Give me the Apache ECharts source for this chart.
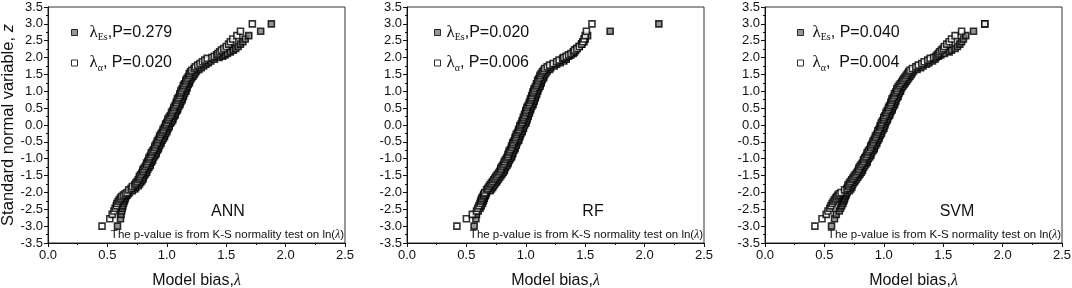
<!DOCTYPE html>
<html>
<head>
<meta charset="utf-8">
<script src="https://cdn.jsdelivr.net/npm/echarts@6/dist/echarts.min.js"></script>
<style>
  html, body { margin: 0; padding: 0; background: #fff; }
  #chart { width: 1072px; height: 288px; }
</style>
</head>
<body>
<div id="chart"></div>
<script>
// standard normal variable z for the lambda_Es points
const zsEs = [-3.00, -2.78, -2.65, -2.55, -2.47, -2.40, -2.33, -2.27, -2.22, -2.17, -2.12, -2.08, -2.04, -2.00,
  -1.95, -1.90, -1.85, -1.80, -1.75, -1.70, -1.65, -1.60, -1.55, -1.50, -1.45, -1.40, -1.35, -1.30, -1.25, -1.20,
  -1.15, -1.10, -1.05, -1.00, -0.95, -0.90, -0.85, -0.80, -0.75, -0.70, -0.65, -0.60, -0.55, -0.50, -0.45, -0.40,
  -0.35, -0.30, -0.25, -0.20, -0.15, -0.10, -0.05, 0.00, 0.05, 0.10, 0.15, 0.20, 0.25, 0.30, 0.35, 0.40, 0.45,
  0.50, 0.55, 0.60, 0.65, 0.70, 0.75, 0.80, 0.85, 0.90, 0.95, 1.00, 1.05, 1.10, 1.15, 1.20, 1.25, 1.30, 1.35,
  1.40, 1.45, 1.50, 1.55, 1.60, 1.65, 1.70, 1.75, 1.80, 1.85, 1.90, 1.95,
  2.00, 2.04, 2.08, 2.12, 2.17, 2.22, 2.27, 2.33, 2.40, 2.47, 2.55, 2.65, 2.78, 3.00];
// standard normal variable z for the lambda_alpha points
const zsAlpha = [-3.00, -2.78, -2.65, -2.55, -2.47, -2.40, -2.33, -2.27, -2.22, -2.17, -2.12, -2.08, -2.04, -2.00,
  -1.925, -1.875, -1.825, -1.775, -1.725, -1.675, -1.625, -1.575, -1.525, -1.475, -1.425, -1.375, -1.325, -1.275,
  -1.225, -1.175, -1.125, -1.075, -1.025, -0.975, -0.925, -0.875, -0.825, -0.775, -0.725, -0.675, -0.625, -0.575,
  -0.525, -0.475, -0.425, -0.375, -0.325, -0.275, -0.225, -0.175, -0.125, -0.075, -0.025, 0.025, 0.075, 0.125,
  0.175, 0.225, 0.275, 0.325, 0.375, 0.425, 0.475, 0.525, 0.575, 0.625, 0.675, 0.725, 0.775, 0.825, 0.875, 0.925,
  0.975, 1.025, 1.075, 1.125, 1.175, 1.225, 1.275, 1.325, 1.375, 1.425, 1.475, 1.525, 1.575, 1.625, 1.675, 1.725,
  1.775, 1.825, 1.875, 1.925, 1.975,
  2.00, 2.04, 2.08, 2.12, 2.17, 2.22, 2.27, 2.33, 2.40, 2.47, 2.55, 2.65, 2.78, 3.00];

// ANN model bias
const annEs = [0.585, 0.61, 0.615, 0.62, 0.625, 0.63, 0.635, 0.64, 0.645, 0.65, 0.655, 0.665, 0.675, 0.685,
  0.71, 0.73, 0.74, 0.76, 0.77, 0.78, 0.79, 0.80, 0.80, 0.81, 0.82, 0.83, 0.83, 0.84, 0.85, 0.86, 0.86, 0.87, 0.88, 0.88,
  0.89, 0.90, 0.91, 0.91, 0.92, 0.93, 0.93, 0.94, 0.95, 0.95, 0.96, 0.97, 0.98, 0.98, 0.99, 1.00, 1.00, 1.01, 1.02, 1.02,
  1.03, 1.04, 1.05, 1.05, 1.06, 1.07, 1.07, 1.08, 1.09, 1.09, 1.10, 1.11, 1.11, 1.12, 1.13, 1.13, 1.14, 1.14, 1.15, 1.16,
  1.16, 1.17, 1.17, 1.18, 1.19, 1.19, 1.20, 1.21, 1.22, 1.23, 1.24, 1.25, 1.27, 1.29, 1.31, 1.33, 1.35, 1.37, 1.40,
  1.44, 1.47, 1.49, 1.51, 1.535, 1.56, 1.58, 1.60, 1.62, 1.64, 1.66, 1.69, 1.79, 1.88];
const annAlpha = [0.455, 0.52, 0.54, 0.555, 0.565, 0.575, 0.58, 0.59, 0.60, 0.61, 0.62, 0.635, 0.65, 0.665,
  0.68, 0.70, 0.71, 0.73, 0.74, 0.75, 0.76, 0.77, 0.77, 0.78, 0.79, 0.80, 0.80, 0.81, 0.82, 0.83, 0.83, 0.84, 0.85, 0.85,
  0.86, 0.87, 0.87, 0.88, 0.89, 0.90, 0.90, 0.91, 0.92, 0.92, 0.93, 0.94, 0.94, 0.95, 0.96, 0.97, 0.97, 0.98, 0.99, 0.99,
  1.00, 1.01, 1.01, 1.02, 1.03, 1.04, 1.04, 1.05, 1.06, 1.06, 1.07, 1.08, 1.08, 1.09, 1.09, 1.10, 1.11, 1.11, 1.12, 1.12,
  1.13, 1.14, 1.14, 1.15, 1.16, 1.16, 1.17, 1.18, 1.19, 1.19, 1.20, 1.21, 1.23, 1.24, 1.26, 1.28, 1.30, 1.32, 1.34,
  1.38, 1.40, 1.42, 1.43, 1.445, 1.46, 1.48, 1.50, 1.52, 1.535, 1.555, 1.59, 1.62, 1.72];

// RF model bias
const rfEs = [0.565, 0.58, 0.585, 0.60, 0.615, 0.625, 0.635, 0.64, 0.645, 0.65, 0.655, 0.66, 0.665, 0.67,
  0.70, 0.71, 0.72, 0.73, 0.74, 0.75, 0.76, 0.77, 0.78, 0.79, 0.80, 0.81, 0.82, 0.82, 0.83, 0.84, 0.85, 0.85, 0.86, 0.87,
  0.88, 0.88, 0.89, 0.89, 0.90, 0.91, 0.91, 0.92, 0.92, 0.93, 0.94, 0.94, 0.95, 0.95, 0.96, 0.97, 0.97, 0.98, 0.98, 0.99,
  1.00, 1.00, 1.01, 1.01, 1.02, 1.02, 1.03, 1.03, 1.04, 1.04, 1.05, 1.06, 1.06, 1.07, 1.07, 1.08, 1.08, 1.09, 1.09, 1.10,
  1.10, 1.11, 1.12, 1.12, 1.13, 1.13, 1.14, 1.15, 1.15, 1.16, 1.17, 1.18, 1.20, 1.21, 1.24, 1.26, 1.29, 1.32, 1.34,
  1.34, 1.36, 1.38, 1.40, 1.41, 1.42, 1.43, 1.45, 1.47, 1.49, 1.50, 1.52, 1.71, 2.12];
const rfAlpha = [0.42, 0.50, 0.55, 0.585, 0.595, 0.605, 0.615, 0.62, 0.625, 0.63, 0.64, 0.645, 0.65, 0.655,
  0.67, 0.68, 0.69, 0.70, 0.71, 0.72, 0.73, 0.74, 0.75, 0.76, 0.77, 0.78, 0.79, 0.79, 0.80, 0.81, 0.82, 0.82, 0.83, 0.84,
  0.85, 0.85, 0.86, 0.86, 0.87, 0.88, 0.88, 0.89, 0.89, 0.90, 0.91, 0.91, 0.92, 0.92, 0.93, 0.94, 0.94, 0.95, 0.95, 0.96,
  0.97, 0.97, 0.98, 0.98, 0.99, 0.99, 1.00, 1.00, 1.01, 1.01, 1.02, 1.03, 1.03, 1.04, 1.04, 1.05, 1.05, 1.06, 1.06, 1.07,
  1.07, 1.08, 1.09, 1.09, 1.10, 1.10, 1.11, 1.12, 1.12, 1.13, 1.14, 1.15, 1.16, 1.18, 1.20, 1.23, 1.26, 1.28, 1.31,
  1.32, 1.34, 1.36, 1.38, 1.40, 1.41, 1.43, 1.45, 1.47, 1.48, 1.49, 1.50, 1.51, 1.557];

// SVM model bias
const svmEs = [0.56, 0.585, 0.60, 0.625, 0.635, 0.645, 0.655, 0.66, 0.665, 0.67, 0.675, 0.68, 0.685, 0.69,
  0.71, 0.72, 0.73, 0.73, 0.74, 0.75, 0.76, 0.77, 0.78, 0.79, 0.80, 0.81, 0.82, 0.82, 0.83, 0.84, 0.85, 0.86, 0.86, 0.87,
  0.88, 0.89, 0.89, 0.90, 0.91, 0.92, 0.92, 0.93, 0.94, 0.94, 0.95, 0.96, 0.96, 0.97, 0.98, 0.98, 0.99, 1.00, 1.00, 1.01,
  1.01, 1.02, 1.03, 1.03, 1.04, 1.05, 1.05, 1.06, 1.07, 1.07, 1.08, 1.09, 1.09, 1.10, 1.10, 1.11, 1.12, 1.12, 1.13, 1.14,
  1.14, 1.15, 1.16, 1.17, 1.18, 1.19, 1.20, 1.21, 1.22, 1.23, 1.24, 1.25, 1.28, 1.31, 1.33, 1.36, 1.38, 1.41, 1.43,
  1.44, 1.46, 1.48, 1.51, 1.55, 1.57, 1.60, 1.62, 1.64, 1.655, 1.67, 1.69, 1.755, 1.85];
const svmAlpha = [0.42, 0.48, 0.515, 0.53, 0.545, 0.555, 0.565, 0.575, 0.585, 0.595, 0.605, 0.615, 0.625, 0.64,
  0.67, 0.69, 0.70, 0.70, 0.71, 0.72, 0.73, 0.74, 0.75, 0.76, 0.77, 0.78, 0.79, 0.79, 0.80, 0.81, 0.82, 0.83, 0.83, 0.84,
  0.85, 0.86, 0.86, 0.87, 0.88, 0.89, 0.89, 0.90, 0.91, 0.91, 0.92, 0.93, 0.93, 0.94, 0.95, 0.95, 0.96, 0.97, 0.97, 0.98,
  0.98, 0.99, 1.00, 1.00, 1.01, 1.02, 1.02, 1.03, 1.04, 1.04, 1.05, 1.06, 1.06, 1.07, 1.07, 1.08, 1.09, 1.09, 1.10, 1.11,
  1.11, 1.12, 1.13, 1.14, 1.15, 1.16, 1.17, 1.18, 1.19, 1.20, 1.21, 1.22, 1.24, 1.27, 1.29, 1.32, 1.34, 1.37, 1.39,
  1.42, 1.44, 1.45, 1.46, 1.47, 1.485, 1.50, 1.51, 1.53, 1.55, 1.57, 1.60, 1.655, 1.85];

const modelNames = ["ANN", "RF", "SVM"];
const esSeries = [annEs, rfEs, svmEs];
const alphaSeries = [annAlpha, rfAlpha, svmAlpha];
// legend text after the lambda symbol
const esLegendText = [",P=0.279", ",P=0.020", ", P=0.040"];
const alphaLegendText = [", P=0.020", ", P=0.006", ",  P=0.004"];

const xTicks = { min: 0, max: 2.5, interval: 0.5 };
const yTicks = { min: -3.5, max: 3.5, interval: 0.5 };

const SANS = "Liberation Sans, Arial, sans-serif";
const SERIF = "Liberation Serif, Times New Roman, serif";
const INK = "#111";

const gridLefts = [48, 407, 765];
const legendLefts = [71, 434, 797];
const legendPads = [7, 1, 4];
const tagCenters = [228, 593, 957];

const chart = echarts.init(document.getElementById("chart"), null, { renderer: "canvas" });

const toPairs = (lams, zs) => lams.map((v, i) => [v, zs[i]]);

const esStyle = { color: "#7a7a7a", borderColor: "#000", borderWidth: 1.6 };
const alphaStyle = { color: "#ffffff", borderColor: "#000", borderWidth: 1.6 };

const grids = gridLefts.map((left) => ({
  left: left, top: 7, width: 297, height: 236,
  outerBoundsMode: "none", containLabel: false,
  show: true, borderColor: "#333", borderWidth: 1, backgroundColor: "transparent",
}));

const xAxes = modelNames.map((_m, i) => ({
  gridIndex: i, type: "value", ...xTicks,
  axisLine: { onZero: false, lineStyle: { color: INK } },
  axisTick: { length: 4, lineStyle: { color: INK } },
  minorTick: { show: true, splitNumber: 2, length: 2, lineStyle: { color: INK } },
  splitLine: { show: false },
  axisLabel: { formatter: (v) => v.toFixed(1), margin: 6, fontSize: 13, color: INK, fontFamily: SANS },
  name: "{a|Model bias,}{b|λ}",
  nameLocation: "middle",
  nameGap: 30,
  nameTextStyle: {
    rich: {
      a: { fontSize: 16, fontFamily: SANS, color: INK },
      b: { fontSize: 16, fontFamily: SERIF, fontStyle: "italic", color: INK },
    },
  },
}));

const yAxes = modelNames.map((_m, i) => ({
  gridIndex: i, type: "value", ...yTicks,
  axisLine: { onZero: false, lineStyle: { color: INK } },
  axisTick: { length: 4, lineStyle: { color: INK } },
  minorTick: { show: true, splitNumber: 2, length: 2, lineStyle: { color: INK } },
  splitLine: { show: false },
  axisLabel: { formatter: (v) => v.toFixed(1), margin: 5, fontSize: 13, color: INK, fontFamily: SANS },
  name: i === 0 ? "{a|Standard normal variable, }{b|z}" : "",
  nameLocation: "middle",
  nameGap: 31,
  nameTextStyle: {
    rich: {
      a: { fontSize: 16.5, fontFamily: SANS, color: INK },
      b: { fontSize: 16.5, fontFamily: SANS, fontStyle: "italic", color: INK },
    },
  },
}));

const series = [];
modelNames.forEach((m, i) => {
  series.push({
    name: m + "-Es", type: "scatter", xAxisIndex: i, yAxisIndex: i,
    symbol: "rect", symbolSize: 6, itemStyle: esStyle,
    data: toPairs(esSeries[i], zsEs),
  });
  series.push({
    name: m + "-a", type: "scatter", xAxisIndex: i, yAxisIndex: i,
    symbol: "rect", symbolSize: 6, itemStyle: alphaStyle,
    data: toPairs(alphaSeries[i], zsAlpha),
  });
});

const legendRich = {
  l: { fontSize: 17, fontFamily: SERIF, color: INK, lineHeight: 20 },
  s: { fontSize: 10, fontFamily: SERIF, color: INK, verticalAlign: "bottom", lineHeight: 12 },
  t: { fontSize: 16, fontFamily: SANS, color: INK, lineHeight: 20 },
};

const legends = modelNames.map((m, i) => ({
  orient: "vertical", left: legendLefts[i], top: 24, padding: 0,
  itemWidth: 6, itemHeight: 6, itemGap: 12, icon: "rect", selectedMode: false,
  data: [
    { name: m + "-Es", itemStyle: { color: "#7a7a7a", borderColor: "#000", borderWidth: 1 } },
    { name: m + "-a", itemStyle: { color: "#ffffff", borderColor: "#000", borderWidth: 1 } },
  ],
  formatter(name) {
    if (name.endsWith("-Es")) return "{l|λ}{s|Es}{t|" + esLegendText[i] + "}";
    return "{l|λ}{s|α}{t|" + alphaLegendText[i] + "}";
  },
  textStyle: { rich: legendRich, padding: [0, 0, 0, legendPads[i]] },
}));

const graphics = [];
modelNames.forEach((m, i) => {
  graphics.push({
    type: "text", x: tagCenters[i], y: 212,
    style: { text: m, fontSize: 16, fontFamily: SANS, fill: INK, align: "center", verticalAlign: "middle" },
  });
  graphics.push({
    type: "text", x: gridLefts[i] + 296, y: 235,
    style: {
      text: "{a|The p-value is from K-S normality test on ln(}{b|λ}{a|)}",
      align: "right", verticalAlign: "middle",
      rich: {
        a: { fontSize: 11.5, fontFamily: SANS, fill: INK },
        b: { fontSize: 11.5, fontFamily: SERIF, fontStyle: "italic", fill: INK },
      },
    },
  });
});

chart.setOption({
  animation: false,
  backgroundColor: "#fff",
  grid: grids,
  xAxis: xAxes,
  yAxis: yAxes,
  legend: legends,
  graphic: graphics,
  series: series,
});
</script>
</body>
</html>
